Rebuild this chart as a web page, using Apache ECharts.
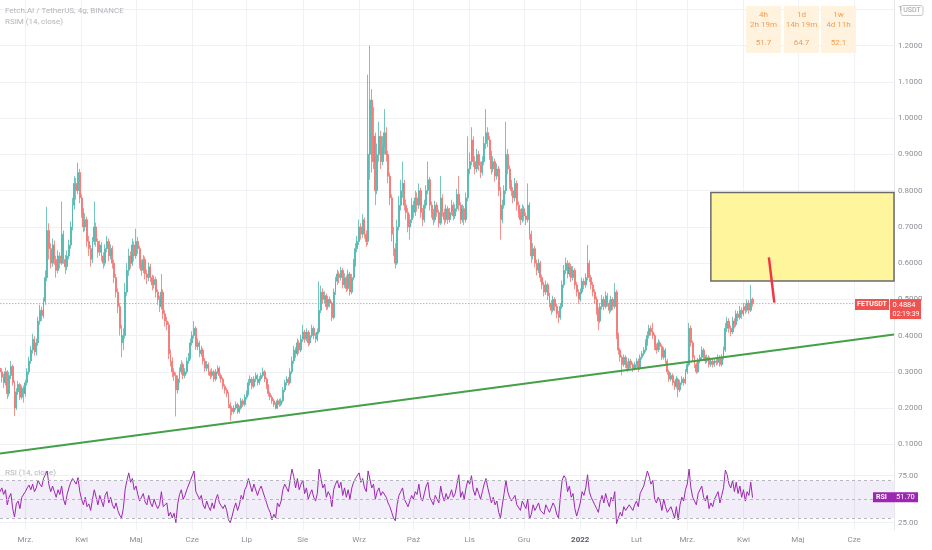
<!DOCTYPE html>
<html><head><meta charset="utf-8">
<script src="https://cdn.jsdelivr.net/npm/echarts@6/dist/echarts.min.js"></script>
<style>html,body{margin:0;padding:0;background:#fff}#c{width:932px;height:550px}</style>
</head><body><div id="c"></div>
<script>
// ---------- data ----------
const startDate = '2021-02-15';
const dayCount = 494; // axis runs to 2022-06-23
const monthNames = ['Sty','Lut','Mrz.','Kwi','Maj','Cze','Lip','Sie','Wrz','Paź','Lis','Gru'];
const priceTicks = [0.1,0.2,0.3,0.4,0.5,0.6,0.7,0.8,0.9,1.0,1.1,1.2,1.3];
const rsiTicks = [25,75];
const rsiLevels = [30,50,70];
const symbolName = 'FETUSDT';
const titleText = 'Fetch.AI / TetherUS, 4g, BINANCE';
const subTitleText = 'RSIM (14, close)';
const rsiTitleText = 'RSI (14, close)';
const lastPrice = 0.4884;
const lastRsi = 51.70;
const countdown = '02:19:39';
const tableHeaders = ['4h','1d','1w'];
const tableTimes = ['2h 19m','14h 19m','4d 11h'];
const tableValues = ['51.7','64.7','52.1'];
const trendLine = [['2021-02-15',0.075],['2022-06-23',0.403]];
const arrowLine = [['2022-04-15',0.6156],['2022-04-18',0.491]];
const zoneBox = [['2022-03-14',0.795],['2022-06-23',0.5505]];
// daily candles [open, close, low, high] from 2021-02-15
const candles = [
[.310,.300,.285,.325],[.300,.285,.270,.310],[.285,.270,.255,.295],[.270,.300,.262,.312],[.300,.240,.225,.305],
[.240,.290,.232,.300],[.290,.315,.280,.330],[.315,.270,.262,.320],[.270,.200,.178,.276],[.200,.245,.195,.255],
[.245,.265,.236,.275],[.265,.230,.222,.270],[.230,.255,.224,.262],[.255,.240,.215,.262],[.240,.270,.232,.278],
[.270,.300,.262,.310],[.300,.330,.292,.342],[.330,.360,.322,.372],[.360,.390,.350,.405],[.390,.355,.345,.398],
[.355,.380,.345,.392],[.380,.440,.372,.452],[.440,.470,.430,.485],[.470,.455,.440,.480],[.455,.495,.448,.505],
[.495,.560,.485,.580],[.560,.690,.550,.755],[.690,.640,.610,.710],[.640,.600,.585,.655],[.600,.650,.590,.668],
[.650,.610,.595,.662],[.610,.580,.560,.620],[.580,.620,.572,.635],[.620,.600,.585,.630],[.600,.680,.595,.770],
[.680,.610,.598,.690],[.610,.590,.570,.622],[.590,.620,.580,.635],[.620,.650,.610,.665],[.650,.700,.640,.715],
[.700,.760,.690,.780],[.760,.820,.748,.840],[.820,.800,.775,.835],[.800,.850,.790,.877],[.850,.780,.765,.860],
[.780,.740,.725,.790],[.740,.700,.685,.752],[.700,.720,.688,.738],[.720,.660,.645,.728],[.660,.640,.620,.675],
[.640,.610,.590,.650],[.610,.660,.600,.672],[.660,.700,.650,.770],[.700,.660,.645,.712],[.660,.630,.615,.668],
[.630,.650,.620,.662],[.650,.620,.605,.658],[.620,.600,.585,.630],[.600,.640,.592,.652],[.640,.660,.630,.675],
[.660,.620,.605,.668],[.620,.640,.610,.652],[.640,.600,.585,.648],[.600,.560,.545,.610],[.560,.520,.505,.570],
[.520,.480,.462,.530],[.480,.420,.400,.490],[.420,.380,.340,.430],[.380,.400,.360,.420],[.400,.520,.392,.545],
[.520,.580,.510,.600],[.580,.620,.565,.640],[.620,.600,.585,.632],[.600,.650,.592,.668],[.650,.620,.605,.660],
[.620,.660,.612,.695],[.660,.640,.625,.672],[.640,.600,.585,.648],[.600,.580,.565,.610],[.580,.610,.572,.622],
[.610,.570,.555,.618],[.570,.560,.542,.582],[.560,.590,.550,.602],[.590,.560,.548,.598],[.560,.540,.525,.568],
[.540,.555,.530,.566],[.555,.520,.505,.562],[.520,.500,.485,.528],[.500,.480,.465,.510],[.480,.520,.472,.570],
[.520,.460,.445,.528],[.460,.440,.425,.470],[.440,.430,.415,.452],[.430,.350,.335,.438],[.350,.330,.315,.362],
[.330,.300,.285,.340],[.300,.290,.275,.310],[.290,.250,.177,.298],[.250,.280,.240,.290],[.280,.300,.270,.312],
[.300,.320,.292,.332],[.320,.290,.280,.326],[.290,.300,.282,.310],[.300,.330,.294,.340],[.330,.340,.322,.352],
[.340,.380,.334,.392],[.380,.400,.372,.412],[.400,.420,.392,.440],[.420,.370,.360,.426],[.370,.380,.360,.392],
[.380,.350,.340,.386],[.350,.360,.342,.372],[.360,.330,.320,.366],[.330,.310,.300,.338],[.310,.320,.302,.330],
[.320,.300,.290,.326],[.300,.290,.280,.306],[.290,.300,.284,.310],[.300,.280,.272,.305],[.280,.300,.274,.308],
[.300,.310,.294,.318],[.310,.290,.282,.315],[.290,.280,.270,.296],[.280,.260,.252,.285],[.260,.250,.240,.266],
[.250,.240,.230,.256],[.240,.210,.200,.245],[.210,.200,.165,.216],[.200,.190,.180,.206],[.190,.200,.184,.208],
[.200,.210,.194,.218],[.210,.190,.184,.215],[.190,.200,.185,.207],[.200,.220,.195,.228],[.220,.210,.203,.226],
[.210,.230,.205,.238],[.230,.240,.224,.248],[.240,.270,.235,.280],[.270,.280,.262,.290],[.280,.260,.252,.286],
[.260,.280,.255,.288],[.280,.290,.272,.298],[.290,.270,.262,.295],[.270,.280,.264,.288],[.280,.290,.274,.298],
[.290,.300,.284,.312],[.300,.280,.272,.305],[.280,.260,.252,.285],[.260,.240,.232,.266],[.240,.230,.222,.246],
[.230,.220,.212,.236],[.220,.210,.203,.226],[.210,.200,.196,.216],[.200,.220,.197,.226],[.220,.210,.203,.226],
[.210,.220,.205,.227],[.220,.250,.215,.258],[.250,.270,.244,.278],[.270,.280,.262,.288],[.280,.270,.262,.286],
[.270,.300,.265,.310],[.300,.330,.294,.342],[.330,.360,.322,.372],[.360,.350,.338,.368],[.350,.380,.344,.392],
[.380,.360,.350,.388],[.360,.390,.354,.402],[.390,.410,.382,.430],[.410,.390,.380,.416],[.390,.410,.384,.420],
[.410,.380,.370,.415],[.380,.400,.374,.410],[.400,.420,.394,.430],[.420,.400,.390,.426],[.400,.390,.380,.408],
[.390,.410,.384,.420],[.410,.470,.404,.550],[.470,.520,.462,.538],[.520,.500,.488,.530],[.500,.510,.490,.522],
[.510,.480,.470,.516],[.480,.500,.472,.510],[.500,.490,.478,.508],[.490,.450,.440,.496],[.450,.520,.445,.530],
[.520,.550,.512,.562],[.550,.570,.540,.582],[.570,.560,.545,.578],[.560,.580,.552,.590],[.580,.540,.530,.586],
[.540,.560,.532,.572],[.560,.530,.520,.566],[.530,.570,.524,.582],[.570,.520,.510,.576],[.520,.560,.514,.570],
[.560,.600,.552,.612],[.600,.640,.590,.655],[.640,.660,.630,.675],[.660,.700,.650,.720],[.700,.680,.665,.710],
[.680,.720,.670,.735],[.720,.680,.668,.726],[.680,.660,.645,.690],[.660,.900,.650,1.120],[.900,1.050,.830,1.200],
[1.050,.880,.850,1.080],[.880,.950,.860,1.030],[.950,.800,.760,.960],[.800,.900,.790,.930],[.900,.950,.880,.990],
[.950,.880,.860,.965],[.880,.920,.870,.950],[.920,.960,.900,1.025],[.960,.900,.880,.975],[.900,.840,.820,.910],
[.840,.780,.760,.850],[.780,.680,.660,.790],[.680,.640,.620,.700],[.640,.600,.585,.655],[.600,.700,.595,.720],
[.700,.760,.690,.785],[.760,.800,.745,.830],[.800,.820,.780,.880],[.820,.760,.745,.830],[.760,.740,.720,.775],
[.740,.700,.685,.752],[.700,.720,.665,.735],[.720,.760,.710,.780],[.760,.740,.725,.772],[.740,.780,.730,.800],
[.780,.760,.742,.795],[.760,.800,.750,.820],[.800,.740,.725,.808],[.740,.720,.702,.752],[.720,.760,.712,.775],
[.760,.800,.750,.815],[.800,.830,.790,.880],[.830,.760,.745,.838],[.760,.740,.725,.770],[.740,.720,.705,.750],
[.720,.760,.712,.772],[.760,.740,.728,.768],[.740,.710,.698,.748],[.710,.780,.705,.840],[.780,.740,.728,.790],
[.740,.720,.706,.750],[.720,.750,.712,.762],[.750,.720,.708,.758],[.720,.740,.712,.752],[.740,.760,.732,.775],
[.760,.730,.718,.768],[.730,.750,.722,.762],[.750,.790,.742,.805],[.790,.760,.745,.840],[.760,.720,.708,.768],
[.720,.750,.712,.762],[.750,.720,.705,.758],[.720,.780,.712,.795],[.780,.860,.770,.950],[.860,.880,.845,.905],
[.880,.940,.870,.975],[.940,.880,.865,.950],[.880,.860,.845,.895],[.860,.900,.850,.915],[.900,.870,.855,.910],
[.870,.850,.835,.880],[.850,.880,.842,.895],[.880,.930,.870,.950],[.930,.960,.915,1.025],[.960,.940,.920,.975],
[.940,.900,.885,.950],[.900,.860,.845,.910],[.860,.880,.850,.895],[.880,.840,.825,.888],[.840,.860,.830,.875],
[.860,.800,.785,.868],[.800,.720,.665,.810],[.720,.760,.710,.775],[.760,.800,.750,.815],[.800,.900,.790,.990],
[.900,.860,.845,.915],[.860,.820,.805,.870],[.820,.800,.785,.830],[.800,.780,.765,.810],[.780,.820,.770,.835],
[.820,.760,.745,.828],[.760,.740,.725,.770],[.740,.720,.705,.750],[.720,.750,.712,.762],[.750,.730,.716,.758],
[.730,.720,.705,.740],[.720,.760,.712,.820],[.760,.680,.665,.768],[.680,.620,.600,.690],[.620,.640,.610,.655],
[.640,.600,.588,.648],[.600,.580,.566,.610],[.580,.600,.572,.612],[.600,.560,.548,.606],[.560,.540,.528,.568],
[.540,.520,.508,.548],[.520,.540,.512,.552],[.540,.510,.498,.546],[.510,.490,.478,.518],[.490,.470,.458,.498],
[.470,.500,.464,.510],[.500,.480,.468,.506],[.480,.460,.448,.488],[.460,.450,.435,.468],[.450,.480,.444,.490],
[.480,.540,.474,.552],[.540,.580,.532,.595],[.580,.600,.570,.615],[.600,.570,.558,.608],[.570,.590,.562,.602],
[.590,.560,.548,.598],[.560,.580,.552,.592],[.580,.540,.528,.586],[.540,.520,.508,.548],[.520,.500,.488,.528],
[.500,.520,.494,.530],[.520,.550,.514,.560],[.550,.540,.528,.558],[.540,.560,.532,.572],[.560,.600,.552,.650],
[.600,.560,.548,.608],[.560,.540,.528,.568],[.540,.520,.508,.548],[.520,.500,.488,.528],[.500,.470,.458,.508],
[.470,.440,.415,.478],[.440,.480,.434,.490],[.480,.500,.472,.512],[.500,.480,.470,.508],[.480,.510,.474,.522],
[.510,.490,.480,.518],[.490,.470,.460,.498],[.470,.500,.464,.510],[.500,.480,.470,.506],[.480,.520,.474,.545],
[.520,.400,.390,.526],[.400,.360,.348,.408],[.360,.340,.328,.366],[.340,.320,.290,.346],[.320,.340,.314,.348],
[.340,.320,.310,.346],[.320,.310,.300,.328],[.310,.330,.304,.338],[.330,.320,.310,.336],[.320,.310,.300,.326],
[.310,.320,.304,.328],[.320,.330,.312,.338],[.330,.310,.300,.336],[.310,.340,.305,.348],[.340,.350,.334,.358],
[.350,.360,.344,.368],[.360,.380,.354,.390],[.380,.400,.372,.412],[.400,.420,.392,.430],[.420,.410,.400,.428],
[.410,.400,.390,.435],[.400,.370,.360,.406],[.370,.360,.350,.378],[.360,.380,.354,.390],[.380,.370,.360,.386],
[.370,.340,.332,.376],[.340,.360,.334,.368],[.360,.330,.322,.366],[.330,.300,.292,.336],[.300,.280,.272,.306],
[.280,.290,.274,.298],[.290,.270,.262,.296],[.270,.260,.250,.276],[.260,.280,.254,.288],[.280,.250,.230,.284],
[.250,.270,.244,.278],[.270,.280,.264,.288],[.280,.270,.262,.286],[.270,.300,.266,.308],[.300,.320,.294,.330],
[.320,.420,.315,.435],[.420,.380,.370,.428],[.380,.340,.330,.386],[.340,.320,.310,.346],[.320,.300,.295,.326],
[.300,.330,.296,.338],[.330,.340,.324,.348],[.340,.360,.334,.370],[.360,.340,.332,.366],[.340,.330,.322,.346],
[.330,.340,.324,.348],[.340,.320,.312,.346],[.320,.330,.314,.336],[.330,.320,.312,.336],[.320,.330,.314,.338],
[.330,.326,.318,.338],[.326,.340,.320,.348],[.340,.320,.314,.346],[.320,.340,.315,.348],[.340,.360,.334,.370],
[.360,.420,.355,.435],[.420,.440,.410,.452],[.440,.420,.408,.448],[.420,.410,.398,.428],[.410,.440,.404,.452],
[.440,.430,.420,.448],[.430,.460,.424,.470],[.460,.450,.440,.468],[.450,.470,.444,.482],[.470,.460,.446,.478],
[.460,.480,.454,.490],[.480,.470,.460,.488],[.470,.490,.464,.500],[.490,.470,.460,.498],[.470,.500,.465,.540],
[.500,.4884,.480,.505]
];
// daily RSI(14) readings
const rsi = [
58,62,55,60,44,52,56,40,31,45,48,40,52,50,58,62,65,60,66,58,
62,70,66,63,72,76,80,65,58,64,58,52,60,55,64,50,44,55,62,68,
72,70,66,73,58,50,44,52,42,45,38,50,60,52,44,54,48,42,54,58,
46,52,44,40,46,38,33,30,40,60,70,78,68,72,60,64,55,48,52,56,
47,44,54,46,42,50,44,40,44,58,42,40,46,32,36,30,35,25,45,55,
60,50,54,60,62,70,72,80,58,60,50,54,44,40,48,42,38,46,40,50,
55,46,44,40,44,38,28,25,32,40,46,38,44,54,50,60,64,72,70,58,
66,68,54,60,64,66,52,46,40,36,28,34,30,46,42,48,60,66,64,58,
70,82,74,62,72,60,66,70,56,62,50,56,60,52,48,56,82,72,62,66,
52,58,54,42,60,66,70,62,68,54,62,52,60,50,62,68,72,74,78,68,
72,62,58,80,82,62,66,50,58,62,54,58,60,52,46,42,36,30,27,44,
54,58,62,50,48,42,44,54,50,58,55,66,52,48,56,64,68,52,48,44,
54,50,46,64,54,48,56,50,54,60,52,56,66,76,52,58,50,62,70,66,
75,60,54,62,56,50,58,66,72,62,54,46,52,44,48,36,30,44,56,70,
58,52,48,46,54,44,42,38,48,44,40,50,29,34,44,38,36,46,38,36,
34,44,40,36,34,46,42,34,30,52,70,75,72,58,64,52,56,40,32,30,
46,58,54,62,76,58,52,48,44,40,36,48,54,46,56,48,42,52,48,58,
24,30,36,32,42,38,36,44,42,38,44,48,42,56,60,64,72,80,74,66,
70,50,46,52,48,38,50,42,36,34,42,36,30,42,28,44,52,48,60,66,
82,62,52,48,44,56,58,64,52,48,54,40,46,42,50,52,58,46,54,62,
81,76,66,62,70,58,68,56,64,52,60,48,58,54,68,51.70
];

// ---------- build ----------
const dates = [];
{ const d = new Date(startDate + 'T00:00:00Z');
  for (let i = 0; i < dayCount; i++) { dates.push(d.toISOString().slice(0,10)); d.setUTCDate(d.getUTCDate()+1); } }
const isMonthStart = (idx, val) => (val || dates[idx]).slice(8) === '01';
const gridColor = '#f0f1f4';
const labelColor = '#8e9099';
const fontFamily = 'Roboto, "Noto Sans", sans-serif';
const priceLine = [[dates[0], lastPrice], [dates[dates.length - 1], lastPrice]];
const priceLineColor = 'rgba(239,83,80,0.55)';

const chart = echarts.init(document.getElementById('c'));
chart.setOption({
  animation: false,
  backgroundColor: '#ffffff',
  textStyle: { fontFamily },
  grid: [
    { left: 0, right: 38, top: 0, height: 465 },
    { left: 0, right: 38, top: 466, height: 64 }
  ],
  xAxis: [
    { type:'category', gridIndex:0, data:dates, boundaryGap:false,
      axisLine:{show:false}, axisTick:{show:false}, axisLabel:{show:false},
      splitLine:{show:true, interval:isMonthStart, lineStyle:{color:gridColor, width:1}} },
    { type:'category', gridIndex:1, data:dates, boundaryGap:false,
      axisLine:{show:false}, axisTick:{show:false},
      axisLabel:{show:true, interval:isMonthStart, margin:6, fontSize:8, color:labelColor, fontFamily,
        formatter:(v)=>{ const m = +v.slice(5,7); return m === 1 ? '{y|' + v.slice(0,4) + '}' : monthNames[m-1]; },
        rich:{ y:{ fontSize:8, fontWeight:'bold', color:'#5d606b', fontFamily } } },
      splitLine:{show:true, interval:isMonthStart, lineStyle:{color:gridColor, width:1}} }
  ],
  yAxis: [
    { type:'value', gridIndex:0, position:'right', min:0.043, max:1.326, scale:true,
      axisLine:{show:true, lineStyle:{color:'#e6e7ea'}},
      axisTick:{show:false, customValues:priceTicks},
      axisLabel:{customValues:priceTicks, formatter:(v)=>v.toFixed(4), fontSize:8, color:labelColor, margin:4, fontFamily},
      splitLine:{show:true, lineStyle:{color:gridColor, width:1}} },
    { type:'value', gridIndex:1, position:'right', min:17.2, max:85.3, scale:true,
      axisLine:{show:true, lineStyle:{color:'#e6e7ea'}},
      axisTick:{show:false, customValues:rsiTicks},
      axisLabel:{customValues:rsiTicks, formatter:(v)=>v.toFixed(2), fontSize:8, color:labelColor, margin:4, fontFamily},
      splitLine:{show:true, lineStyle:{color:gridColor, width:1}} }
  ],
  series: [
    { type:'line', xAxisIndex:0, yAxisIndex:0, data:priceLine, showSymbol:false, silent:true, z:2,
      color: priceLineColor, itemStyle:{ color: priceLineColor },
      lineStyle:{ color: priceLineColor, type:[1.5,1.5], width:1 } },
    { type:'candlestick', xAxisIndex:0, yAxisIndex:0, data:candles, barWidth:1.4, z:3,
      itemStyle:{ color:'#26a69a', color0:'#ef5350', borderColor:'#4fb8ad', borderColor0:'#f27673', borderWidth:0.8 },
      markArea:{ silent:true, itemStyle:{ color:'#fff59d', borderColor:'#6b6b6b', borderWidth:1.5 },
        data:[[{ coord:zoneBox[0] }, { coord:zoneBox[1] }]] } },
    { type:'line', xAxisIndex:0, yAxisIndex:0, data:trendLine, showSymbol:false, silent:true, z:5,
      color:'#43a047', lineStyle:{ color:'#43a047', width:2 } },
    { type:'line', xAxisIndex:0, yAxisIndex:0, data:arrowLine, showSymbol:false, silent:true, z:6,
      color:'#f23645', lineStyle:{ color:'#f23645', width:2.5 } },
    { type:'line', xAxisIndex:1, yAxisIndex:1, data:rsi, showSymbol:false, silent:true, z:4,
      color:'#9c27b0', lineStyle:{ color:'#9c27b0', width:1 },
      markArea:{ silent:true, itemStyle:{ color:'rgba(126,87,194,0.1)' }, data:[[{ yAxis:30 }, { yAxis:70 }]] },
      markLine:{ silent:true, symbol:'none', label:{show:false},
        lineStyle:{ color:'#b7b8bf', type:[3,3], width:1 },
        data: rsiLevels.map(v => ({ yAxis:v })) } }
  ]
});

// ---------- overlay labels (positions from library scales) ----------
const yP = chart.convertToPixel({ yAxisIndex:0 }, lastPrice);
const yR = chart.convertToPixel({ yAxisIndex:1 }, lastRsi);
const cellX = [746, 784, 821];
const g = [
  { type:'text', left:5, top:7, style:{ text:titleText, fill:'#b3b5bc', font:'8px ' + fontFamily } },
  { type:'text', left:5, top:18, style:{ text:subTitleText, fill:'#b3b5bc', font:'8px ' + fontFamily } },
  { type:'text', left:5, top:469, z:1, style:{ text:rsiTitleText, fill:'#b3b5bc', font:'8px ' + fontFamily } },
  // USDT button
  { type:'rect', shape:{ x:901, y:5.5, width:22, height:10, r:2 }, style:{ fill:'#fff', stroke:'#c5c7cc', lineWidth:1 }, z:20 },
  { type:'text', x:912, y:10.5, z:21, style:{ text:'USDT', fill:'#9a9ca3', font:'7px ' + fontFamily, align:'center', verticalAlign:'middle' } },
  // last price labels
  { type:'rect', shape:{ x:855, y:yP-4.5, width:34, height:11 }, style:{ fill:'#ef5350' }, z:20 },
  { type:'text', x:872, y:yP+1, z:21, style:{ text:symbolName, fill:'#fff', font:'bold 7px ' + fontFamily, align:'center', verticalAlign:'middle' } },
  { type:'rect', shape:{ x:890, y:yP-4.5, width:31, height:20 }, style:{ fill:'#ef5350' }, z:20 },
  { type:'text', x:892.5, y:yP+1.2, z:21, style:{ text:lastPrice.toFixed(4), fill:'#fff', font:'7.5px ' + fontFamily, verticalAlign:'middle' } },
  { type:'text', x:892.5, y:yP+10.5, z:21, style:{ text:countdown, fill:'#fff', font:'7px ' + fontFamily, verticalAlign:'middle' } },
  // RSI label
  { type:'rect', shape:{ x:873, y:yR-5.3, width:45, height:10 }, style:{ fill:'#9c27b0' }, z:20 },
  { type:'text', x:876, y:yR-0.3, z:21, style:{ text:'RSI', fill:'#fff', font:'bold 7px ' + fontFamily, verticalAlign:'middle' } },
  { type:'text', x:896, y:yR-0.3, z:21, style:{ text:lastRsi.toFixed(2), fill:'#fff', font:'7.5px ' + fontFamily, verticalAlign:'middle' } }
];
cellX.forEach((x, k) => {
  g.push({ type:'rect', shape:{ x, y:6, width:35, height:47 }, style:{ fill:'#fff3e0' }, z:20 });
  g.push({ type:'text', x:x+17.5, y:15, z:21, style:{ text:tableHeaders[k], fill:'#f39c4f', font:'8px ' + fontFamily, align:'center', verticalAlign:'middle' } });
  g.push({ type:'text', x:x+17.5, y:25, z:21, style:{ text:tableTimes[k], fill:'#f39c4f', font:'8px ' + fontFamily, align:'center', verticalAlign:'middle' } });
  g.push({ type:'text', x:x+17.5, y:43, z:21, style:{ text:tableValues[k], fill:'#f39c4f', font:'8px ' + fontFamily, align:'center', verticalAlign:'middle' } });
});
chart.setOption({ graphic: g });
</script>
</body></html>
